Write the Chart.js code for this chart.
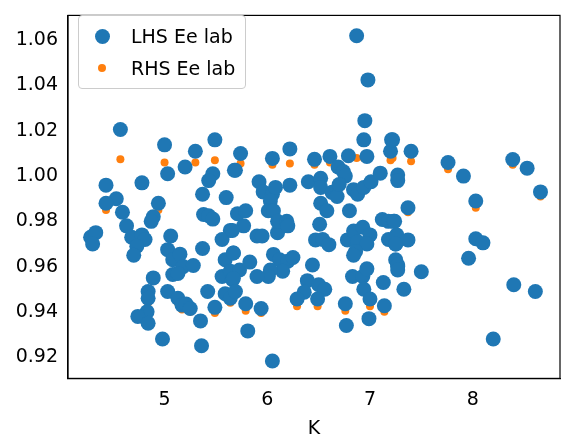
<!DOCTYPE html>
<html>
<head>
<meta charset="utf-8">
<script src="https://cdn.jsdelivr.net/npm/chart.js@4"></script>
<style>
  body { margin: 0; background: #fff; }
  #wrap { position: relative; width: 572px; height: 444px; }
  #legend { position: absolute; left: 78px; top: 15px; border: 1px solid #ccc; border-radius: 4px;
    background: rgba(255,255,255,0.8); padding: 4px 10px 4px 8px; font: 19px "DejaVu Sans"; color: #000; }
  .row { display: flex; align-items: center; height: 32px; }
  .mk { width: 30px; display: flex; justify-content: center; margin-right: 14px; }
  .dot { border-radius: 50%; }
</style>
</head>
<body>
<div id="wrap">
  <canvas id="myChart" width="572" height="444"></canvas>
  <div id="legend">
    <div class="row"><span class="mk"><span class="dot" style="width:15px;height:15px;background:#1f77b4"></span></span>LHS Ee lab</div>
    <div class="row"><span class="mk"><span class="dot" style="width:8px;height:8px;background:#ff7f0e"></span></span>RHS Ee lab</div>
  </div>
</div>
<script>
// K values and the two series
let kVals = [
  4.57, 5.00, 5.30, 5.49, 4.43, 4.78, 5.03, 5.20, 4.53, 4.43, 4.59, 4.94, 4.89, 4.87,
  4.28, 4.33, 4.30, 4.63, 4.68, 4.78, 4.81, 4.73, 4.70, 5.06, 5.03, 5.08, 5.15, 5.18,
  5.28, 5.08, 5.13, 4.89, 4.84, 4.84, 4.83, 4.74, 4.84, 5.03, 5.13, 5.17, 5.21, 5.25,
  4.98, 5.35, 5.36, 5.42, 5.49, 5.37, 5.37, 5.38, 5.43, 5.47, 5.47, 5.43, 5.60, 5.69,
  5.64, 5.56, 5.67, 5.59, 5.56, 5.64, 5.66, 5.59, 5.64,
  5.74, 5.68, 6.05, 6.22, 6.95, 6.94, 7.21, 7.20, 6.46, 6.61, 6.79, 6.97,
  5.92, 5.96, 6.05, 6.08, 6.03, 6.01, 6.06, 6.22, 6.40, 6.52, 6.52, 6.52, 6.58, 6.63,
  6.68, 6.69, 6.74, 6.76, 6.70, 6.80, 6.84, 6.88, 6.94, 7.01, 7.10, 7.27,
  5.77, 5.71, 5.79, 5.66, 5.90, 5.95, 6.10, 6.10, 6.19, 6.20, 6.51, 6.47, 6.54, 6.60,
  6.78, 6.84, 6.93, 7.00, 6.88, 6.97, 6.86, 6.84, 7.12, 7.18, 7.23, 7.18, 7.25,
  5.67, 5.73, 5.83, 5.67, 5.69, 6.06, 6.12, 6.20, 6.25, 6.15, 6.03, 6.01, 5.90,
  6.44, 6.39, 6.50, 6.56, 6.36, 6.49, 6.29, 5.79, 5.94, 5.81, 6.05, 6.76, 6.77,
  6.83, 6.93, 6.97, 6.94, 7.00, 6.99, 7.13, 7.14, 7.25, 7.27,
  7.22, 7.40, 7.27, 7.76, 7.91, 8.03, 8.39, 8.53, 8.66, 7.37, 7.24, 7.26, 7.37, 7.25,
  8.03, 8.10, 7.96, 7.27, 7.27, 7.50, 7.33, 8.40, 8.61, 8.20, 6.87, 6.98
];
let lhsVals = [
  1.0206, 1.0138, 1.0110, 1.0160, 0.9960, 0.9970, 1.0010, 1.0040, 0.9900, 0.9880, 0.9840, 0.9880, 0.9820, 0.9800,
  0.9730, 0.9750, 0.9700, 0.9780, 0.9730, 0.9740, 0.9720, 0.9690, 0.9650, 0.9735, 0.9675, 0.9630, 0.9655, 0.9600,
  0.9605, 0.9565, 0.9570, 0.9550, 0.9490, 0.9460, 0.9400, 0.9380, 0.9350, 0.9490, 0.9460, 0.9430, 0.9435, 0.9415,
  0.9280, 0.9360, 0.9250, 0.9490, 0.9420, 0.9920, 0.9680, 0.9830, 0.9825, 0.9810, 1.0010, 0.9980, 0.9905, 1.0026,
  0.9760, 0.9720, 0.9660, 0.9630, 0.9556, 0.9580, 0.9543, 0.9480, 0.9460,
  1.0100, 1.0026, 1.0078, 1.0120, 1.0245, 1.0160, 1.0160, 1.0110, 1.0074, 1.0087, 1.0090, 1.0087,
  0.9975, 0.9930, 0.9920, 0.9950, 0.9890, 0.9847, 0.9847, 0.9960, 0.9975, 0.9990, 0.9950, 0.9880, 0.9847, 0.9928,
  0.9910, 1.0040, 1.0020, 1.0000, 0.9963, 0.9847, 0.9940, 0.9920, 0.9950, 0.9975, 1.0013, 1.0005,
  0.9780, 0.9834, 0.9847, 0.9760, 0.9735, 0.9735, 0.9750, 0.9800, 0.9800, 0.9780, 0.9787, 0.9718, 0.9720, 0.9697,
  0.9718, 0.9757, 0.9774, 0.9740, 0.9710, 0.9700, 0.9667, 0.9650, 0.9808, 0.9800, 0.9800, 0.9720, 0.9700,
  0.9660, 0.9585, 0.9620, 0.9547, 0.9490, 0.9654, 0.9630, 0.9624, 0.9640, 0.9580, 0.9585, 0.9556, 0.9556,
  0.9607, 0.9538, 0.9520, 0.9500, 0.9487, 0.9457, 0.9457, 0.9436, 0.9415, 0.9316, 0.9183, 0.9436, 0.9340,
  0.9556, 0.9556, 0.9590, 0.9500, 0.9457, 0.9370, 0.9530, 0.9427, 0.9630, 0.9600,
  1.0160, 1.0110, 0.9980, 1.0060, 1.0000, 0.9890, 1.0073, 1.0035, 0.9930, 0.9860, 0.9800, 0.9740, 0.9718, 0.9700,
  0.9723, 0.9705, 0.9637, 0.9607, 0.9585, 0.9577, 0.9500, 0.9520, 0.9490, 0.9280, 1.0620, 1.0425
];
let rhsVals = [
  1.0074, 1.0060, 1.0060, 1.0070, 0.9950, 0.9970, 1.0010, 1.0040, 0.9900, 0.9850, 0.9840, 0.9850, 0.9820, 0.9800,
  0.9725, 0.9750, 0.9700, 0.9780, 0.9730, 0.9740, 0.9720, 0.9690, 0.9650, 0.9735, 0.9675, 0.9630, 0.9655, 0.9600,
  0.9605, 0.9565, 0.9570, 0.9550, 0.9480, 0.9440, 0.9390, 0.9380, 0.9350, 0.9490, 0.9440, 0.9410, 0.9420, 0.9400,
  0.9285, 0.9360, 0.9260, 0.9490, 0.9395, 0.9920, 0.9680, 0.9830, 0.9825, 0.9810, 1.0020, 0.9980, 0.9905, 1.0026,
  0.9770, 0.9720, 0.9660, 0.9630, 0.9556, 0.9580, 0.9543, 0.9470, 0.9440,
  1.0056, 1.0026, 1.0050, 1.0056, 1.0090, 1.0080, 1.0080, 1.0070, 1.0050, 1.0060, 1.0100, 1.0095,
  0.9975, 0.9930, 0.9920, 0.9950, 0.9890, 0.9847, 0.9847, 0.9960, 0.9975, 0.9980, 0.9950, 0.9880, 0.9847, 0.9928,
  0.9910, 1.0040, 1.0020, 1.0000, 0.9963, 0.9847, 0.9940, 0.9920, 0.9950, 0.9975, 1.0013, 1.0005,
  0.9770, 0.9834, 0.9847, 0.9760, 0.9735, 0.9735, 0.9750, 0.9800, 0.9800, 0.9780, 0.9795, 0.9718, 0.9720, 0.9697,
  0.9718, 0.9757, 0.9774, 0.9740, 0.9710, 0.9700, 0.9667, 0.9650, 0.9808, 0.9790, 0.9800, 0.9720, 0.9700,
  0.9660, 0.9585, 0.9620, 0.9547, 0.9490, 0.9654, 0.9630, 0.9624, 0.9640, 0.9580, 0.9585, 0.9556, 0.9556,
  0.9607, 0.9538, 0.9520, 0.9500, 0.9487, 0.9425, 0.9425, 0.9405, 0.9395, 0.9316, 0.9183, 0.9405, 0.9340,
  0.9556, 0.9556, 0.9580, 0.9500, 0.9425, 0.9370, 0.9530, 0.9400, 0.9630, 0.9600,
  1.0080, 1.0066, 1.0003, 1.0030, 1.0010, 0.9860, 1.0050, 1.0030, 0.9910, 0.9840, 0.9810, 0.9750, 0.9725, 0.9710,
  0.9735, 0.9705, 0.9637, 0.9610, 0.9595, 0.9577, 0.9500, 0.9520, 0.9480, 0.9280, 1.0080, 1.0090
];

document.addEventListener("DOMContentLoaded", function() {
    let lhsPts = kVals.map((k, i) => ({ x: k, y: lhsVals[i] }));
    let rhsPts = kVals.map((k, i) => ({ x: k, y: rhsVals[i] }));
    let tickFont = { family: "DejaVu Sans", size: 19 };

    let ctx = document.getElementById('myChart').getContext('2d');
    new Chart(ctx, {
        type: 'scatter',
        data: {
            datasets: [
                { label: 'LHS Ee lab', data: lhsPts, backgroundColor: '#1f77b4', borderWidth: 0, pointRadius: 7.5 },
                { label: 'RHS Ee lab', data: rhsPts, backgroundColor: '#ff7f0e', borderWidth: 0, pointRadius: 4 }
            ]
        },
        options: {
            responsive: false,
            animation: false,
            layout: { padding: { top: 5, right: 12, left: 0, bottom: 0 } },
            plugins: { legend: { display: false }, tooltip: { enabled: false } },
            scales: {
                x: {
                    min: 4.06, max: 8.85,
                    afterBuildTicks: s => { s.ticks = [5, 6, 7, 8].map(v => ({ value: v })); },
                    ticks: { font: tickFont, color: '#000', padding: 4 },
                    grid: { display: false, drawTicks: true, tickLength: 6, tickColor: '#000' },
                    border: { color: '#000', width: 1.2 },
                    title: { display: true, text: 'K', font: tickFont, color: '#000', padding: { top: 2 } }
                },
                y: {
                    min: 0.9106, max: 1.071,
                    afterBuildTicks: s => { s.ticks = [0.92, 0.94, 0.96, 0.98, 1.00, 1.02, 1.04, 1.06].map(v => ({ value: v })); },
                    afterFit: s => { s.width = 68; },
                    ticks: { font: tickFont, color: '#000', padding: 4, callback: v => v.toFixed(2) },
                    grid: { display: false, drawTicks: true, tickLength: 6, tickColor: '#000' },
                    border: { color: '#000', width: 1.2 }
                }
            }
        },
        plugins: [{
            id: 'frame',
            afterDraw: c => {
                let a = c.chartArea, g = c.ctx;
                g.save(); g.strokeStyle = '#000'; g.lineWidth = 1.2;
                g.strokeRect(a.left, a.top, a.right - a.left, a.bottom - a.top);
                g.restore();
            }
        }]
    });
});
</script>
</body>
</html>
